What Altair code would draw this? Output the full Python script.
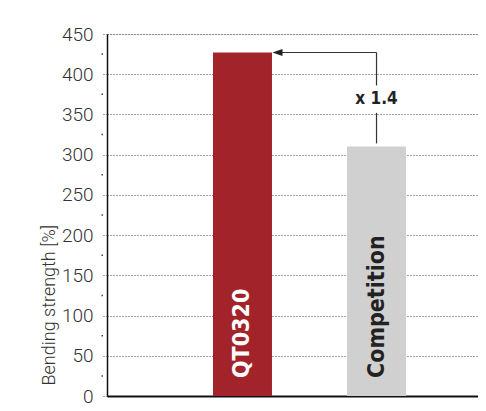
import altair as alt
import pandas as pd

# ---- data ----
categories = ["QT0320", "Competition"]
values = [427, 310]
bar_colors = ["#A3232A", "#D0D0D0"]
label_colors = ["#FFFFFF", "#222222"]
y_ticks = [0, 50, 100, 150, 200, 250, 300, 350, 400, 450]
minor_ticks = [25, 75, 125, 175, 225, 275, 325, 375, 425]
factor_label = "x 1.4"

NARROW = "DejaVu Sans Condensed, sans-serif"
LIGHT = "Roboto, sans-serif"

bars_df = pd.DataFrame({"cat": categories, "val": values, "col": bar_colors, "lcol": label_colors})

xscale = alt.Scale(domain=categories, paddingInner=0.56, paddingOuter=0.664, align=0.5955)
yscale = alt.Scale(domain=[0, 450], nice=False)

x_enc = alt.X("cat:N", scale=xscale, sort=categories,
              axis=alt.Axis(title=None, labels=False, ticks=False, domain=True,
                            domainColor="#111", domainWidth=2, grid=False))
y_enc = alt.Y("val:Q", scale=yscale,
              axis=alt.Axis(values=y_ticks, title="Bending strength [%]",
                            titleFont=LIGHT, titleFontSize=18, titleFontWeight=300,
                            titleColor="#333", titleAngle=270, titleAlign="left",
                            titleBaseline="alphabetic", titleX=-53, titleY=351,
                            labelFont=LIGHT, labelFontSize=19, labelFontWeight=300,
                            labelColor="#333",
                            labelPadding=10, tickSize=4, tickDash=[1, 2], tickColor="#444",
                            domainColor="#111", domainWidth=1.5,
                            grid=True, gridDash=[1, 2], gridColor="#444", gridWidth=1))

bars = alt.Chart(bars_df).mark_bar(size=59).encode(
    x=x_enc, y=y_enc,
    color=alt.Color("col:N", scale=None),
)

bar_labels = alt.Chart(bars_df).mark_text(
    angle=270, align="left", baseline="middle", dx=18,
    font=NARROW, fontSize=23, fontWeight="bold",
).encode(
    x=alt.X("cat:N", scale=xscale, sort=categories),
    y=alt.Y("zero:Q", scale=yscale),
    text="cat:N",
    color=alt.Color("lcol:N", scale=None),
).transform_calculate(zero="0")

minor_df = pd.DataFrame({"v": minor_ticks})
minor = alt.Chart(minor_df).mark_rule(color="#444", strokeWidth=1.5).encode(
    x=alt.value(-5.5), x2=alt.value(-4), y=alt.Y("v:Q", scale=yscale)
)

# annotation arrow: from Competition bar top up to QT0320 level, then left
label_val = 369
gap = 17
ann_v = pd.DataFrame({
    "cat": ["Competition", "Competition"],
    "y1": [values[1] + 4, label_val + gap],
    "y2": [label_val - gap, values[0]],
})
vlines = alt.Chart(ann_v).mark_rule(color="#333", strokeWidth=1.2).encode(
    x=alt.X("cat:N", scale=xscale, sort=categories),
    y=alt.Y("y1:Q", scale=yscale), y2="y2:Q",
)
ann_h = pd.DataFrame({"cat": ["Competition"], "cat2": ["QT0320"], "y": [values[0]]})
hline = alt.Chart(ann_h).mark_rule(color="#333", strokeWidth=1.2, x2Offset=35).encode(
    x=alt.X("cat:N", scale=xscale, sort=categories), x2="cat2:N",
    y=alt.Y("y:Q", scale=yscale),
)
head = alt.Chart(ann_h).mark_point(
    shape="M-1,0L1,-0.7L1,0.7Z", filled=True, size=100, color="#222", opacity=1, xOffset=35,
).encode(
    x=alt.X("cat2:N", scale=xscale, sort=categories),
    y=alt.Y("y:Q", scale=yscale),
)
ann_t = pd.DataFrame({"cat": ["Competition"], "y": [label_val], "t": [factor_label]})
factor = alt.Chart(ann_t).mark_text(
    font=NARROW, fontSize=17, fontWeight="bold", color="#222", baseline="middle",
).encode(
    x=alt.X("cat:N", scale=xscale, sort=categories),
    y=alt.Y("y:Q", scale=yscale), text="t:N",
)

chart = alt.layer(bars, minor, bar_labels, vlines, hline, head, factor).properties(
    width=371, height=362,
    autosize=alt.AutoSizeParams(type="none"),
    padding={"left": 99, "top": 26, "right": 0, "bottom": 10},
).configure_view(stroke=None).configure(background="white")

chart.save("out.html", embed_options={"renderer": "svg", "actions": False})
